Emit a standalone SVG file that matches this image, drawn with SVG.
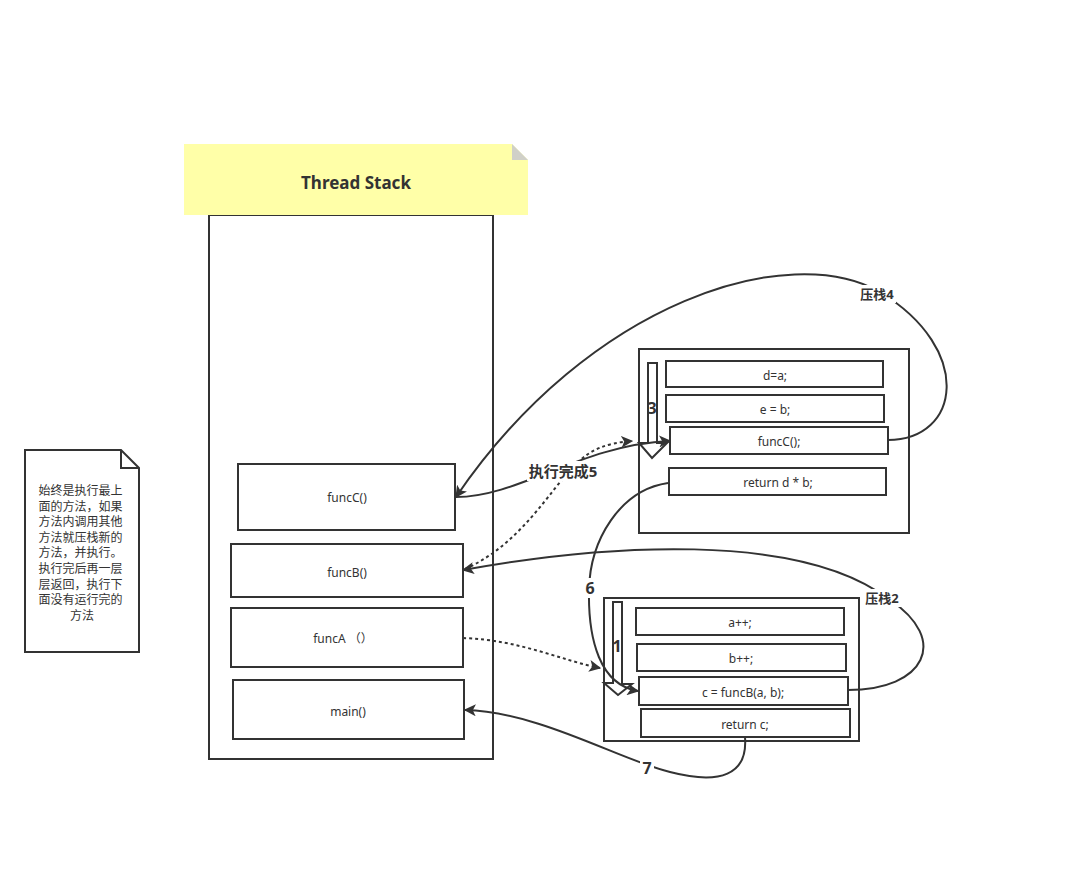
<svg xmlns="http://www.w3.org/2000/svg" width="1087" height="875" viewBox="0 0 1087 875">
<style>
.box{fill:#fff;stroke:#333;stroke-width:2}
.t{font-family:"Noto Sans","Noto Sans CJK SC",sans-serif;font-size:12px;fill:#333;text-anchor:middle;dominant-baseline:central}
.lb{font-family:"Noto Sans","Noto Sans CJK SC",sans-serif;font-weight:bold;fill:#333;text-anchor:middle;dominant-baseline:central}
.c{fill:none;stroke:#333;stroke-width:2}
.d{fill:none;stroke:#333;stroke-width:2;stroke-dasharray:3 3}
.bg{fill:#fff}
</style>
<defs>
<marker id="a" viewBox="0 0 10 10" refX="9" refY="5" markerWidth="6" markerHeight="6" orient="auto" markerUnits="strokeWidth">
<path d="M0,0 L10,5 L0,10 L2.5,5 Z" fill="#333"/>
</marker>
</defs>
<rect width="1087" height="875" fill="#fff"/>

<g id="thread-stack">
<rect x="209" y="215" width="284" height="544" class="box"/>
<path d="M184,144 H512 L528,160 V215 H184 Z" fill="#ffffa8"/>
<path d="M512,144 L528,160 H512 Z" fill="#d0d0c8"/>
<text x="356" y="182" class="lb" font-size="17">Thread Stack</text>
</g>
<g id="funcC-node"><rect x="238" y="464" width="217" height="66" class="box"/><text x="347" y="497" class="t">funcC()</text></g>
<g id="funcB-node"><rect x="231" y="544" width="232" height="53" class="box"/><text x="347" y="572" class="t">funcB()</text></g>
<g id="funcA-node"><rect x="231" y="608" width="232" height="59" class="box"/><text x="343" y="638" class="t">funcA （）</text></g>
<g id="main-node"><rect x="233" y="680" width="231" height="59" class="box"/><text x="348" y="711" class="t">main()</text></g>

<g id="note">
<path d="M25,450 H121 L139,468 V652 H25 Z" class="box"/>
<path d="M121,450 V468 H139" fill="none" stroke="#333" stroke-width="2"/>
<text class="t" font-size="13">
<tspan x="82" y="490">始终是执行最上</tspan>
<tspan x="82" y="505.6">面的方法，如果</tspan>
<tspan x="82" y="521.2">方法内调用其他</tspan>
<tspan x="82" y="536.8">方法就压栈新的</tspan>
<tspan x="82" y="552.4">方法，并执行。</tspan>
<tspan x="82" y="568">执行完后再一层</tspan>
<tspan x="82" y="583.6">层返回，执行下</tspan>
<tspan x="82" y="599.2">面没有运行完的</tspan>
<tspan x="82" y="614.8">方法</tspan>
</text>
</g>

<g id="funcC-frame">
<rect x="639" y="349" width="270" height="184" class="box"/>
<rect x="666" y="361" width="217" height="26" class="box"/><text x="775" y="375" class="t">d=a;</text>
<rect x="666" y="395" width="218" height="27" class="box"/><text x="775" y="409" class="t">e = b;</text>
<rect x="669" y="468" width="217" height="27" class="box"/><text x="778" y="482" class="t">return d * b;</text>
<path d="M648,363 H657 V443 H667 L652,458 L639,443 H648 Z" class="box"/>
<text x="652" y="408" class="lb" font-size="16">3</text>
<rect x="670" y="427" width="218" height="27" class="box"/><text x="779" y="441" class="t">funcC();</text>
</g>

<g id="funcB-frame">
<rect x="604" y="598" width="255" height="143" class="box"/>
<rect x="636" y="608" width="208" height="27" class="box"/><text x="740" y="622" class="t">a++;</text>
<rect x="637" y="644" width="209" height="27" class="box"/><text x="741" y="658" class="t">b++;</text>
<rect x="641" y="709" width="209" height="28" class="box"/><text x="745" y="724" class="t">return c;</text>
<path d="M613,602 H622 V684 H632 L618,695 L604,683 H613 Z" class="box"/>
<text x="617" y="646" class="lb" font-size="16">1</text>
<rect x="639" y="677" width="209" height="28" class="box"/><text x="743" y="692" class="t">c = funcB(a, b);</text>
</g>

<g id="connectors">
<path d="M888,440 C960,440 975,350 880,292 C790,240 590,300 456,497" class="c" marker-end="url(#a)"/>
<path d="M456,497 C520,497 580,445 670,441" class="c" marker-end="url(#a)"/>
<path d="M465,569 C520,545 550,490 575,465 C590,450 605,443 632,441" class="d" marker-end="url(#a)"/>
<path d="M848,690 C925,690 950,640 890,600 C800,530 600,545 463,570" class="c" marker-end="url(#a)"/>
<path d="M668,483 C620,490 590,540 589,590 C588,640 600,685 638,691" class="c" marker-end="url(#a)"/>
<path d="M463,638 C520,640 560,660 600,668" class="d" marker-end="url(#a)"/>
<path d="M745,737 C748,775 720,785 670,772 C620,760 540,712 465,710" class="c" marker-end="url(#a)"/>
<rect x="860" y="285" width="36" height="18" class="bg"/>
<text x="877" y="294" class="lb" font-size="13">压栈4</text>
<rect x="865" y="589" width="36" height="18" class="bg"/>
<text x="882" y="598" class="lb" font-size="13">压栈2</text>
<rect x="527" y="461" width="73" height="20" class="bg"/>
<text x="563" y="471" class="lb" font-size="15">执行完成5</text>
<rect x="583" y="578" width="14" height="20" class="bg"/>
<text x="590" y="588" class="lb" font-size="16">6</text>
<rect x="640" y="758" width="14" height="20" class="bg"/>
<text x="647" y="768" class="lb" font-size="16">7</text>
</g>
</svg>
